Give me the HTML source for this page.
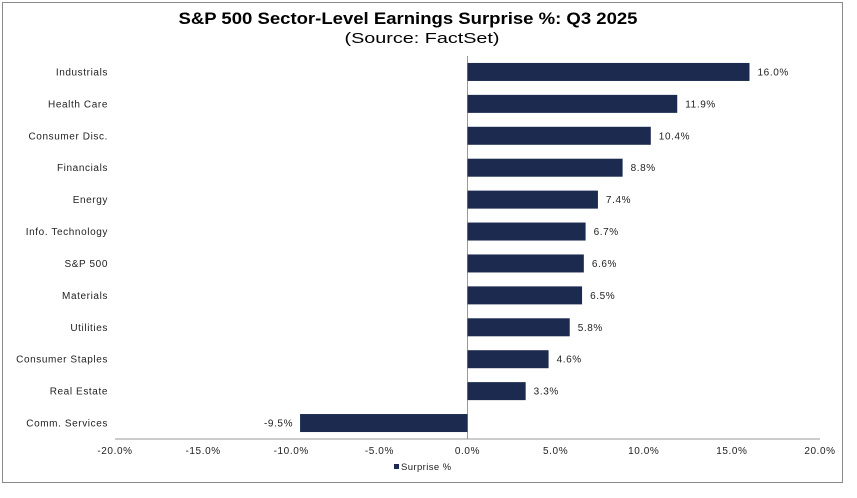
<!DOCTYPE html>
<html><head><meta charset="utf-8"><style>
body{margin:0;background:#fff;width:857px;height:493px;overflow:hidden;font-family:"Liberation Sans",Arial,sans-serif}
svg text.s{font-size:10px;letter-spacing:0.6px}
</style></head><body>
<svg width="857" height="493" xmlns="http://www.w3.org/2000/svg">
<rect x="2.5" y="2.5" width="840" height="480" fill="#fff" stroke="#8a8a8a" stroke-width="1"/>
<text x="408" y="24" text-anchor="middle" font-size="17" font-weight="bold" fill="#000" textLength="459" lengthAdjust="spacingAndGlyphs">S&amp;P 500 Sector-Level Earnings Surprise %: Q3 2025</text>
<text x="422" y="43" text-anchor="middle" font-size="15" fill="#000" textLength="155" lengthAdjust="spacingAndGlyphs">(Source: FactSet)</text>
<g id="plot"></g>
<g>
<rect x="394" y="464" width="5" height="5" fill="#1b2a4e"/>
<text class="s" x="401" y="470" style="font-size:9.5px;letter-spacing:0.4px" fill="#222">Surprise %</text>
</g>
</svg>
<script>
const categories=["Industrials","Health Care","Consumer Disc.","Financials","Energy","Info. Technology","S&P 500","Materials","Utilities","Consumer Staples","Real Estate","Comm. Services"];
const values=[16.0,11.9,10.4,8.8,7.4,6.7,6.6,6.5,5.8,4.6,3.3,-9.5];
const ticks=[-20,-15,-10,-5,0,5,10,15,20];
const NS="http://www.w3.org/2000/svg";
const g=document.getElementById('plot');
const x0=115,x1=820,xmin=-20,xmax=20;
function xs(v){return x0+(v-xmin)/(xmax-xmin)*(x1-x0);}
const yTop=56,yBot=439,band=(yBot-yTop)/categories.length;
function yc(i){return yTop+band*(i+0.5);}
function mk(t,a){const e=document.createElementNS(NS,t);for(const k in a)e.setAttribute(k,a[k]);g.appendChild(e);return e;}
const zl=mk('line',{x1:xs(0),x2:xs(0),y1:yTop,y2:yBot,stroke:'#999','stroke-width':1});


const ax=mk('line',{x1:x0,x2:x1,y1:yBot,y2:yBot,stroke:'#999','stroke-width':1});


ticks.forEach(t=>{
 const e=mk('text',{class:'s',x:xs(t),y:454,'text-anchor':'middle',fill:'#222'});
 e.textContent=t.toFixed(1)+'%';
 
 
});
categories.forEach((c,i)=>{
 const y=yc(i),v=values[i];
 const l=mk('text',{class:'s',x:108,y:y+3.5,'text-anchor':'end',fill:'#222'});
 l.textContent=c;
 
 
 const a=Math.min(xs(0),xs(v)),w=Math.abs(xs(v)-xs(0));
 const r=mk('rect',{x:a,y:y-9,width:w,height:18,fill:'#1b2a4e'});
 
 
 const vl=mk('text',{class:'s',x:v>=0?xs(v)+8:xs(v)-7,y:y+3.5,'text-anchor':v>=0?'start':'end',fill:'#222'});
 vl.textContent=v.toFixed(1)+'%';
 
 
});
</script>
</body></html>
